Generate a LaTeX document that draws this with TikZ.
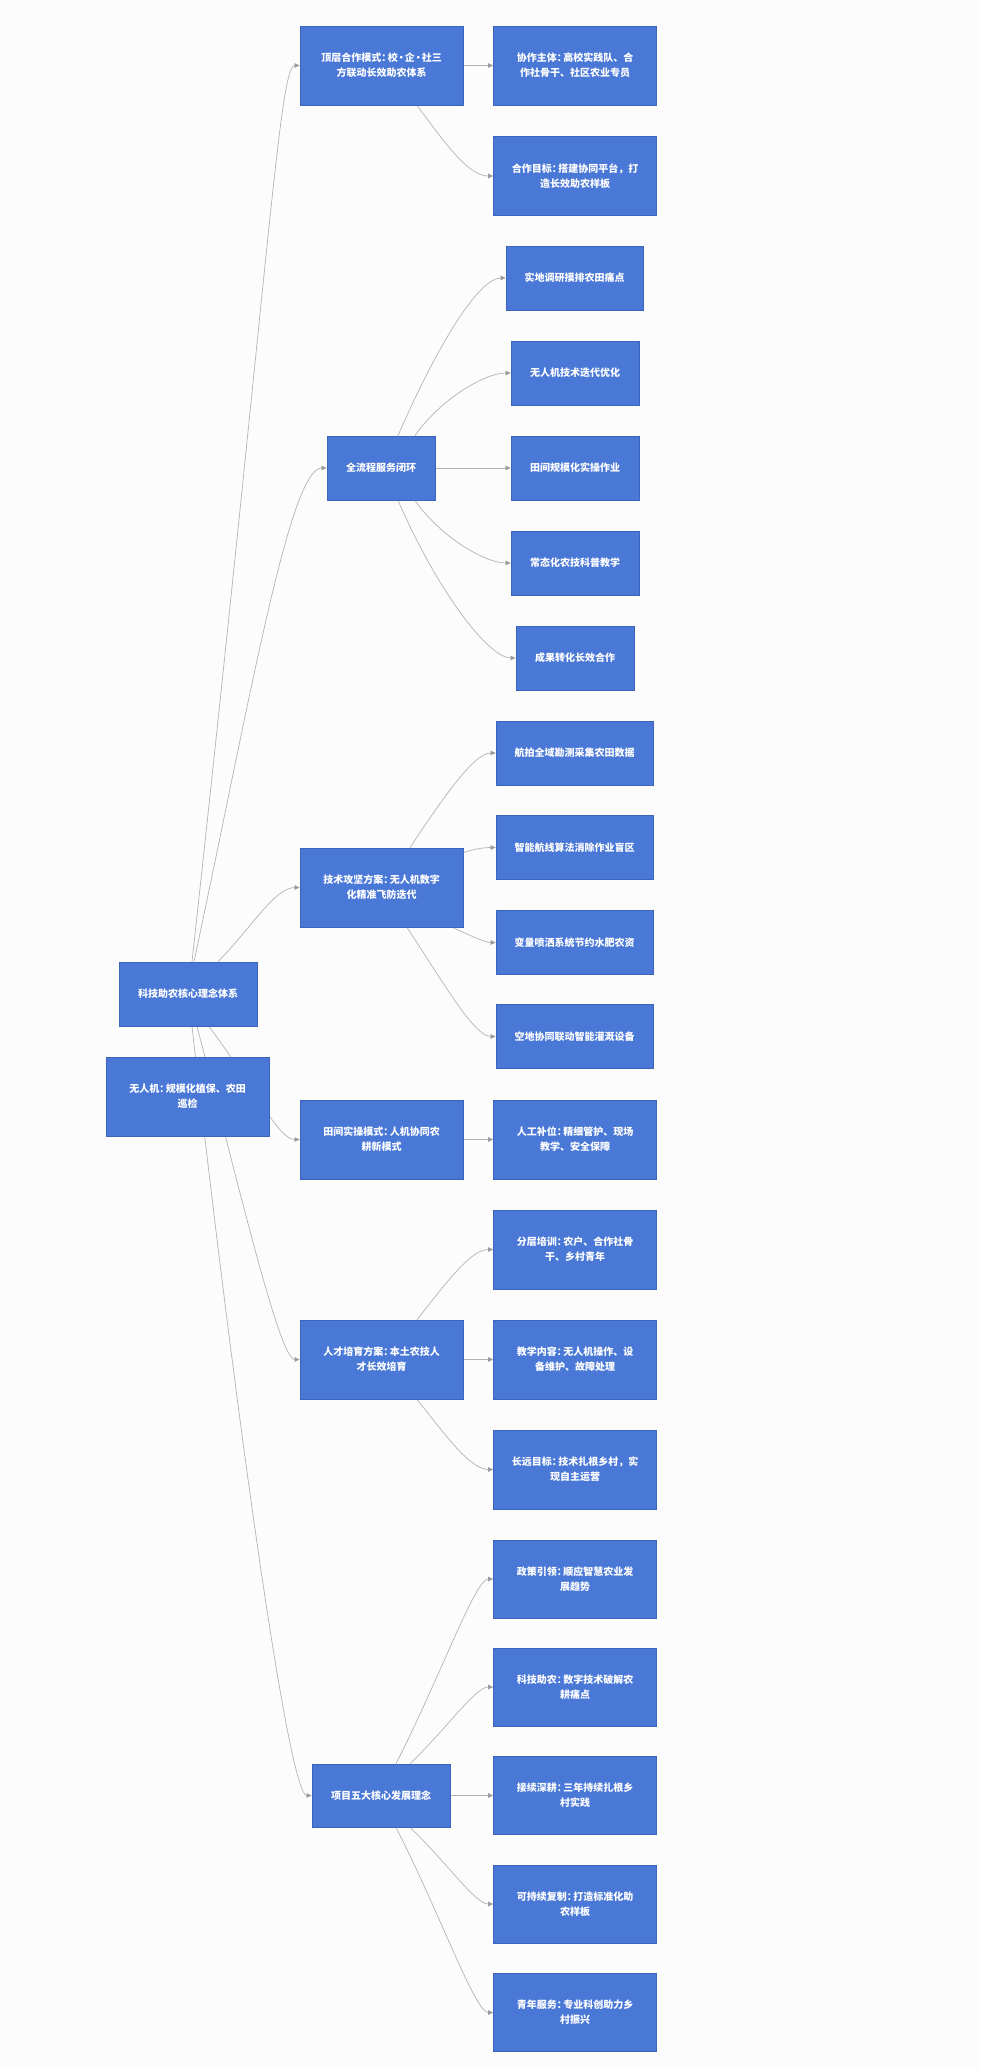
\documentclass[tikz,border=0pt]{standalone}
\usepackage{fontspec}
\setmainfont{Noto Sans CJK SC}
\usetikzlibrary{arrows.meta}
\definecolor{nodeblue}{HTML}{4A78D7}
\definecolor{nodeborder}{HTML}{3D64BC}
\definecolor{edgegrey}{HTML}{B4B4B4}
\definecolor{tipgrey}{HTML}{9A9A9A}
\definecolor{bgpaper}{HTML}{FCFCFC}
\newcommand\cnc{：\kern-3.5pt}
\newcommand\cnd{\kern-1.5pt·\kern-1.5pt}
\pgfdeclarelayer{back}
\pgfdeclarelayer{edges}
\pgfsetlayers{back,edges,main}
\tikzset{
  box/.style={rectangle, fill=nodeblue, draw=nodeborder, line width=0.8pt,
    text=white, font=\bfseries\fontsize{10}{15}\selectfont, align=center, inner sep=0pt},
  wide/.style={box, minimum width=163pt, minimum height=79pt},
  link/.style={draw=edgegrey, line width=0.7pt,
    -{Triangle[length=5pt,width=4.5pt,fill=tipgrey,color=tipgrey]}}
}
\begin{document}
\begin{tikzpicture}[x=1pt,y=-1pt]
\begin{pgfonlayer}{back}
\fill[bgpaper] (0,0) rectangle (980,2068);
\end{pgfonlayer}
\useasboundingbox (0,0) rectangle (980,2068);

% root and stray node
\node[box, minimum width=138pt, minimum height=64pt] (R) at (188,994) {科技助农核心理念体系};
\node[wide] (W) at (187.5,1096.5) {无人机\cnc 规模化植保、农田\\巡检};

% branch A
\node[wide] (A) at (381.5,65.5) {顶层合作模式\cnc 校\cnd 企\cnd 社三\\方联动长效助农体系};
\node[wide] (A1) at (575,65.5) {协作主体\cnc 高校实践队、合\\作社骨干、社区农业专员};
\node[wide] (A2) at (575,176) {合作目标\cnc 搭建协同平台，打\\造长效助农样板};

% branch B
\node[box, minimum width=108pt, minimum height=64pt] (B) at (381,468) {全流程服务闭环};
\node[box, minimum width=137pt, minimum height=64pt] (B1) at (574.5,278) {实地调研摸排农田痛点};
\node[box, minimum width=128pt, minimum height=64pt] (B2) at (575,373) {无人机技术迭代优化};
\node[box, minimum width=128pt, minimum height=64pt] (B3) at (575,468) {田间规模化实操作业};
\node[box, minimum width=128pt, minimum height=64pt] (B4) at (575,563) {常态化农技科普教学};
\node[box, minimum width=118pt, minimum height=64pt] (B5) at (575,658) {成果转化长效合作};

% branch C
\node[wide] (C) at (381.5,887.5) {技术攻坚方案\cnc 无人机数字\\化精准飞防迭代};
\node[box, minimum width=157pt, minimum height=64pt] (C1) at (574.5,753) {航拍全域勘测采集农田数据};
\node[box, minimum width=157pt, minimum height=64pt] (C2) at (574.5,847.5) {智能航线算法消除作业盲区};
\node[box, minimum width=157pt, minimum height=64pt] (C3) at (574.5,942.5) {变量喷洒系统节约水肥农资};
\node[box, minimum width=157pt, minimum height=64pt] (C4) at (574.5,1036.5) {空地协同联动智能灌溉设备};

% branch D
\node[wide] (D) at (381.5,1139.5) {田间实操模式\cnc 人机协同农\\耕新模式};
\node[wide] (D1) at (575,1139.5) {人工补位\cnc 精细管护、现场\\教学、安全保障};

% branch E
\node[wide] (E) at (381.5,1359.5) {人才培育方案\cnc 本土农技人\\才长效培育};
\node[wide] (E1) at (575,1249.5) {分层培训\cnc 农户、合作社骨\\干、乡村青年};
\node[wide] (E2) at (575,1359.5) {教学内容\cnc 无人机操作、设\\备维护、故障处理};
\node[wide] (E3) at (575,1469.5) {长远目标\cnc 技术扎根乡村，实\\现自主运营};

% branch F
\node[box, minimum width=138pt, minimum height=63pt] (F) at (381,1795.5) {项目五大核心发展理念};
\node[wide, minimum height=78pt] (F1) at (575,1579) {政策引领\cnc 顺应智慧农业发\\展趋势};
\node[wide, minimum height=78pt] (F2) at (575,1687) {科技助农\cnc 数字技术破解农\\耕痛点};
\node[wide, minimum height=78pt] (F3) at (575,1795.5) {接续深耕\cnc 三年持续扎根乡\\村实践};
\node[wide, minimum height=78pt] (F4) at (575,1904) {可持续复制\cnc 打造标准化助\\农样板};
\node[wide, minimum height=78pt] (F5) at (575,2012.5) {青年服务\cnc 专业科创助力乡\\村振兴};

\begin{pgfonlayer}{edges}
% root edges
\draw[link] ([xshift=4pt]R.north) .. controls +(78,-712) and +(-20,0) .. (A.west);
\draw[link] ([xshift=6pt]R.north) .. controls +(56,-262) and +(-37,0) .. (B.west);
\draw[link] ([xshift=30pt]R.north) .. controls +(32,-32) and +(-25,0) .. (C.west);
\draw[link] ([xshift=21pt]R.south) .. controls +(45,60) and +(-22,0) .. (D.west);
\draw[link] ([xshift=9pt]R.south) .. controls +(43,164) and +(-20,0) .. (E.west);
\draw[link] ([xshift=4pt]R.south) .. controls +(48,424) and +(-22,0) .. (F.west);

% A
\draw[link] (A.east) -- (A1.west);
\draw[link] ([xshift=35.5pt]A.south) .. controls +(33,45) and +(-23,0) .. (A2.west);
% B
\draw[link] ([xshift=17pt]B.north) .. controls +(42,-96) and +(-26,0) .. (B1.west);
\draw[link] ([xshift=34pt]B.north) .. controls +(25,-36) and +(-26,0) .. (B2.west);
\draw[link] (B.east) -- (B3.west);
\draw[link] ([xshift=34pt]B.south) .. controls +(25,36) and +(-26,0) .. (B4.west);
\draw[link] ([xshift=17pt]B.south) .. controls +(42,96) and +(-26,0) .. (B5.west);
% C
\draw[link] ([xshift=28.5pt]C.north) .. controls +(35,-53) and +(-21,0) .. (C1.west);
\draw[link] ([yshift=-5pt]C.north east) .. controls +(12,-4) and +(-11,0) .. (C2.west);
\draw[link] ([xshift=-11pt]C.south east) .. controls +(18,8) and +(-11,0) .. (C3.west);
\draw[link] ([xshift=25.5pt]C.south) .. controls +(38,58) and +(-21,0) .. (C4.west);
% D
\draw[link] (D.east) -- (D1.west);
% E
\draw[link] ([xshift=35.5pt]E.north) .. controls +(28,-35) and +(-23,0) .. (E1.west);
\draw[link] (E.east) -- (E2.west);
\draw[link] ([xshift=35.5pt]E.south) .. controls +(28,35) and +(-23,0) .. (E3.west);
% F
\draw[link] ([xshift=15pt]F.north) .. controls +(44,-86) and +(-18,0) .. (F1.west);
\draw[link] ([xshift=29pt]F.north) .. controls +(35,-33) and +(-18,0) .. (F2.west);
\draw[link] (F.east) -- (F3.west);
\draw[link] ([xshift=29pt]F.south) .. controls +(35,33) and +(-18,0) .. (F4.west);
\draw[link] ([xshift=15pt]F.south) .. controls +(44,86) and +(-18,0) .. (F5.west);
\end{pgfonlayer}
\end{tikzpicture}
\end{document}
